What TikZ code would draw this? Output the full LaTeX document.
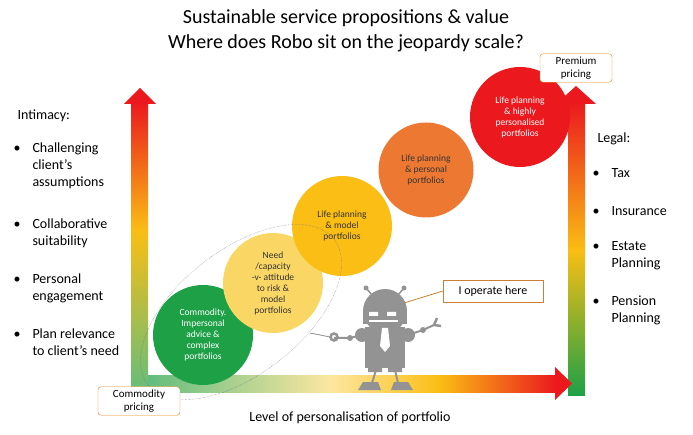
\documentclass[tikz,border=0pt]{standalone}
\usepackage{fontspec}
\setmainfont{Carlito}
\begin{document}
\begin{tikzpicture}[x=1pt,y=-1pt,
 circ/.style={circle,minimum size=#1,text=white,align=center,font=\fontsize{9.5}{11}\selectfont,inner sep=0pt},
 lbl/.style={anchor=west,align=left,font=\fontsize{14}{17}\selectfont},
 pbox/.style={draw=orange!70!brown,fill=white,rounded corners=3pt,align=center,font=\fontsize{11}{13}\selectfont,inner sep=3pt},
 rob/.style={fill=gray!85}]
\useasboundingbox (0,0) rectangle (693,435);
\definecolor{cg}{RGB}{30,160,70}\definecolor{cly}{RGB}{250,215,100}\definecolor{cy}{RGB}{250,190,20}
\definecolor{co}{RGB}{236,120,50}\definecolor{cr}{RGB}{235,25,30}
\node (t) at (346,31) [align=center,font=\fontsize{20}{25}\selectfont] {Sustainable service propositions \& value\\Where does Robo sit on the jeopardy scale?};
% left arrow
\shade[bottom color=cg!70,top color=cy] (131,395) rectangle (148,230);
\shade[bottom color=cy,top color=cr] (131,231) rectangle (148,102);
\fill[cr] (124,104) -- (140,88) -- (156,104) -- cycle;
% right arrow
\shade[bottom color=cg,top color=cy] (568,395) rectangle (585,250);
\shade[bottom color=cy,top color=cr] (568,251) rectangle (585,102);
\fill[cr] (556,104) -- (576,86) -- (596,104) -- cycle;
% bottom arrow
\shade[left color=cg!70,right color=cly!60] (148,375) rectangle (330,392);
\shade[left color=cly!60,right color=cy] (329,375) rectangle (440,392);
\shade[left color=cy,right color=cr] (439,375) rectangle (556,392);
\fill[cr] (555,367) -- (572,383.5) -- (555,400) -- cycle;
% circles
\node (c1) at (203,335) [circ=100,fill=cg] {Commodity.\\Impersonal\\advice \&\\complex\\portfolios};
\node (c2) at (273,283) [circ=100,fill=cly,text=black!80] {Need\\/capacity\\-v- attitude\\to risk \&\\model\\portfolios};
\node (c3) at (342,226) [circ=100,fill=cy,text=black!80] {Life planning\\\& model\\portfolios};
\node (c4) at (426,170) [circ=95,fill=co,text=black!80] {Life planning\\\& personal\\portfolios};
\node (c5) at (520,117) [circ=100,fill=cr] {Life planning\\\& highly\\personalised\\portfolios};
\draw[densely dotted,gray!80!blue] (241,312) ellipse[x radius=118,y radius=62,rotate=38];
% robot
\draw[gray!85,line width=1.5] (372,295) -- (366,288) (398,295) -- (404,288);
\fill[gray!85] (366,288) circle (2.5) (404,288) circle (2.5);
\fill[rob] (385,311) circle (22);
\fill[rob] (363,311) rectangle (407,324);
\fill[rob] (365,327) rectangle (405,368);
\fill[rob] (368,360) rectangle (382,372) (388,360) rectangle (402,372);
\draw[gray!85,line width=2] (376,370) -- (372,383) (395,370) -- (398,383);
\fill[gray!85] (358,390) -- (363,382) -- (378,382) -- (381,390) -- cycle (391,390) -- (394,382) -- (408,382) -- (413,390) -- cycle;
\fill[rob] (362,335) circle (7) (408,335) circle (7);
\draw[gray!85,line width=2] (362,335) -- (350,338) -- (334,338) (408,335) -- (423,330) -- (434,325);
\fill[gray!85] (350,338) circle (3) (423,330) circle (3);
\draw[gray!85,line width=2.5] (334,337) circle (3.5) (434,325) -- (437,318) (434,325) -- (441,326);
\draw[gray!85,line width=0.8] (330,337) -- (310,333);
\fill[white] (369,312) rectangle (378,316) (387,312) rectangle (396,316);
\fill[white] (369,320) rectangle (398,322);
\fill[white] (382,328) -- (388,328) -- (390,346) -- (385,352) -- (380,346) -- cycle;
% callout
\node (op) at (493,291) [draw=brown!80!orange,fill=white,minimum width=100,minimum height=22,font=\fontsize{12}{14}\selectfont] {I operate here};
\draw[brown!80!orange,thick] (op.west) -- (404,303);
\node (pp) at (576,68) [pbox,minimum width=72] {Premium\\pricing};
\node (cp) at (139,401) [pbox,minimum width=82] {Commodity\\pricing};
\node (xl) at (350,418) [font=\fontsize{14}{16}\selectfont] {Level of personalisation of portfolio};
% left list
\node (i0) at (14,116) [lbl] {Intimacy:};
\foreach \y/\t in {166/{Challenging\\client’s\\assumptions},233/{Collaborative\\suitability},288/{Personal\\engagement},342/{Plan relevance\\to client’s need}}{
 \node at (10,\y) [lbl] {\textbullet\hspace{12pt}\parbox[t]{100pt}{\t}};}
\node (l0) at (594,139) [lbl] {Legal:};
\foreach \y/\t in {173/Tax,211/Insurance,256/{Estate\\Planning},310/{Pension\\Planning}}{
 \node at (589,\y) [lbl] {\textbullet\hspace{12pt}\parbox[t]{70pt}{\t}};}
\end{tikzpicture}
\end{document}
